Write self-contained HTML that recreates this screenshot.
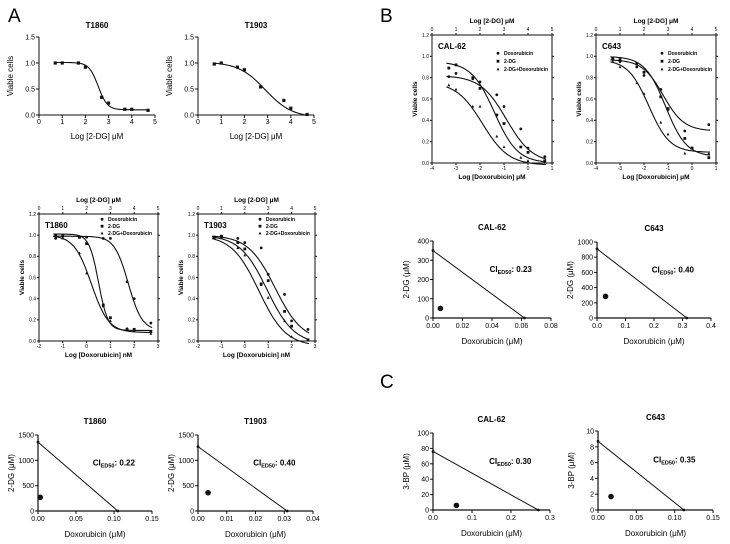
<!DOCTYPE html>
<html><head><meta charset="utf-8"><style>
html,body{margin:0;padding:0;background:#fff;}
svg{display:block;font-family:"Liberation Sans",sans-serif;}
</style></head><body>
<svg id="fig" width="730" height="544" viewBox="0 0 730 544">
<text x="8" y="22" font-size="19">A</text>
<text x="380" y="22" font-size="19">B</text>
<text x="380" y="388" font-size="19">C</text>
</svg>
<script>
// ---- data ----
const a1X=[0.7,1,1.7,2,2.7,3,3.7,4,4.7];
const a1Y=[1,1,1,0.92,0.34,0.23,0.11,0.11,0.09];
const a1Fit=[1.01,0.1,2.55,2.2];
const a2X=[0.7,1,1.7,2,2.7,3.7,4,4.7];
const a2Y=[0.98,1,0.92,0.87,0.54,0.28,0.13,0.01];
const a2Fit=[1.02,-0.05,2.9,0.75];
const doseAX=[-1.3,-1,-0.3,0,0.7,1,1.7,2,2.7];
const a3Dox=[0.97,0.99,0.98,0.98,0.97,0.97,0.56,0.40,0.17];
const a3DoxFit=[0.99,0.1,1.75,1.5];
const a3Dg=[1,1,0.98,0.92,0.34,0.22,0.11,0.11,0.09];
const a3DgFit=[1.01,0.1,0.5,2.2];
const a3Cb=[0.98,0.97,0.83,0.64,0.33,0.19,0.12,0.1,0.07];
const a3CbFit=[1.0,0.08,0.2,1.2];
const a4Dox=[0.98,0.99,0.97,0.93,0.88,0.63,0.44,0.19,0.11];
const a4DoxFit=[1.0,0.0,1.3,0.75];
const a4Dg=[0.98,0.99,0.93,0.87,0.54,0.57,0.28,0.14,0.01];
const a4DgFit=[1.0,-0.03,0.95,0.75];
const a4Cb=[0.98,0.98,0.88,0.81,0.53,0.41,0.19,0.04,0.01];
const a4CbFit=[1.0,-0.05,0.6,0.75];
const doseBX=[-3.3,-3,-2.3,-2,-1.3,-1,-0.3,0,0.7];
const b1Dox=[0.81,0.84,0.79,0.76,0.64,0.53,0.32,0.14,0.06];
const b1DoxFit=[0.82,0,-0.9,0.8];
const b1Dg=[0.89,0.92,0.80,0.70,0.45,0.37,0.15,0.1,0.02];
const b1DgFit=[0.95,0,-1.4,0.9];
const b1Cb=[0.73,0.69,0.53,0.53,0.25,0.15,0.05,0.02,0.01];
const b1CbFit=[0.76,-0.02,-1.9,0.8];
const b2Dox=[0.97,0.95,0.90,0.82,0.69,0.50,0.30,0.14,0.36];
const b2DoxFit=[0.97,0.3,-1.2,1.0];
const b2Dg=[0.98,0.97,0.93,0.85,0.62,0.51,0.23,0.14,0.05];
const b2DgFit=[1.0,0.06,-1.1,1.0];
const b2Cb=[0.95,0.90,0.75,0.65,0.38,0.27,0.09,0.14,0.09];
const b2CbFit=[0.97,0.1,-1.8,1.0];
const isoNames=["b-cal62","b-c643","a-t1860","a-t1903","c-cal62","c-c643"];
const isoTitles=["CAL-62","C643","T1860","T1903","CAL-62","C643"];
const isoYInt=[350,910,1360,1270,76,8.7];
const isoXInt=[0.062,0.315,0.105,0.031,0.27,0.112];
const isoPtX=[0.005,0.03,0.003,0.0035,0.06,0.017];
const isoPtY=[50,285,270,360,6,1.7];
const isoCI=["0.23","0.40","0.22","0.40","0.30","0.35"];
const isoXTicks=[[0,0.02,0.04,0.06,0.08],[0,0.1,0.2,0.3,0.4],[0,0.05,0.1,0.15],[0,0.01,0.02,0.03,0.04],[0,0.1,0.2,0.3],[0,0.05,0.1,0.15]];
const isoXDec=[2,1,2,2,1,2];
const isoYTicks=[[0,100,200,300,400],[0,200,400,600,800,1000],[0,500,1000,1500],[0,500,1000,1500],[0,20,40,60,80,100],[0,2,4,6,8,10]];
const isoYLab=["2-DG (μM)","2-DG (μM)","2-DG (μM)","2-DG (μM)","3-BP (μM)","3-BP (μM)"];

// ---- drawing ----
const NS="http://www.w3.org/2000/svg";
const svg=document.getElementById('fig');
function el(tag,attrs,parent){const e=document.createElementNS(NS,tag);for(const k in attrs)e.setAttribute(k,attrs[k]);(parent||svg).appendChild(e);return e;}
function txt(x,y,s,size,anchor,parent,bold){const t=el('text',{x:x,y:y,'font-size':size,'text-anchor':anchor||'middle','font-weight':bold?'bold':'normal'},parent);t.textContent=s;return t;}
function lin(a,b,p,q){return v=>p+(v-a)/(b-a)*(q-p);}
function fit(f,x){return f[1]+(f[0]-f[1])/(1+Math.pow(10,(x-f[2])*f[3]));}
function marker(g,shape,x,y,r){
  let m;
  if(shape==='sq'){m=el('rect',{x:x-r,y:y-r,width:2*r,height:2*r,fill:'#111'},g);}
  else if(shape==='tri'){m=el('polygon',{points:`${x},${y-r*1.2} ${x-r},${y+r*0.8} ${x+r},${y+r*0.8}`,fill:'#111'},g);}
  else{m=el('circle',{cx:x,cy:y,r:r,fill:'#111'},g);}
  
  
}
function curve(g,f,sx,sy,xa,xb){
  let d='';for(let i=0;i<=80;i++){const x=xa+(xb-xa)*i/80;d+=(i?'L':'M')+sx(x).toFixed(1)+','+sy(fit(f,x)).toFixed(1);}
  const p=el('path',{d:d,fill:'none',stroke:'#111','stroke-width':1.1},g);
  
  
}
function fmt(v,d){return v.toFixed(d);}

function simple(name,title,px0,px1,xs,ys,f){
  const g=el('g',{});
  
  
  const sx=lin(0,5,px0,px1), sy=lin(0,1.5,115,37);
  el('path',{d:`M${px0},37V115H${px1}`,fill:'none',stroke:'#111','stroke-width':1},g);
  for(let v=0;v<=5;v++){el('line',{x1:sx(v),x2:sx(v),y1:115,y2:118,stroke:'#111'},g);txt(sx(v),124,String(v),7,'middle',g);}
  [0,0.5,1,1.5].forEach(v=>{el('line',{x1:px0-3,x2:px0,y1:sy(v),y2:sy(v),stroke:'#111'},g);txt(px0-4,sy(v)+2.5,v.toFixed(1),7,'end',g);});
  const t=txt((px0+px1)/2,28,title,8,'middle',g,true);
  
  txt((px0+px1)/2,139,'Log [2-DG] μM',8,'middle',g);
  const yl=txt(0,0,'Viable cells',8,'middle',g);yl.setAttribute('transform',`translate(${px0-26},76) rotate(-90)`);
  curve(g,f,sx,sy,0.7,4.7);
  xs.forEach((x,i)=>marker(g,'sq',sx(x),sy(ys[i]),1.6));
}
simple('chart-a-t1860-2dg','T1860',39,155,a1X,a1Y,a1Fit);
simple('chart-a-t1903-2dg','T1903',198,314,a2X,a2Y,a2Fit);

function boxed(name,title,px0,px1,xmin,xmax,py0,py1,xs,series,unit,lgx,lgy,lgs){
  const g=el('g',{});
  
  
  const sx=lin(xmin,xmax,px0,px1), sy=lin(0,1.2,py0,py1), st=lin(0,5,px0,px1);
  el('rect',{x:px0,y:py1,width:px1-px0,height:py0-py1,fill:'none',stroke:'#111','stroke-width':1},g);
  for(let v=xmin;v<=xmax;v++){el('line',{x1:sx(v),x2:sx(v),y1:py0,y2:py0+2,stroke:'#111'},g);txt(sx(v),py0+7,String(v),5,'middle',g);}
  for(let v=0;v<=5;v++){el('line',{x1:st(v),x2:st(v),y1:py1,y2:py1-2,stroke:'#111'},g);txt(st(v),py1-4,String(v),5,'middle',g);}
  for(let k=0;k<=6;k++){const v=k*0.2;el('line',{x1:px0-2,x2:px0,y1:sy(v),y2:sy(v),stroke:'#111'},g);el('line',{x1:px1,x2:px1+2,y1:sy(v),y2:sy(v),stroke:'#111'},g);txt(px0-3,sy(v)+1.8,v.toFixed(1),5,'end',g);}
  txt((px0+px1)/2,py1-12,'Log [2-DG] μM',6.5,'middle',g,true);
  txt((px0+px1)/2,py0+16,'Log [Doxorubicin] '+unit,6.5,'middle',g,true);
  const yl=txt(0,0,'Viable cells',6.5,'middle',g,true);yl.setAttribute('transform',`translate(${px0-15},${(py0+py1)/2}) rotate(-90)`);
  const t=txt(px0+6,py1+14,title,8,'start',g,true);
  
  const lg=['Doxorubicin','2-DG','2-DG+Doxorubicin'],sh=['c','sq','tri'];
  lg.forEach((s,i)=>{const ly=py1+lgy+i*lgs;marker(g,sh[i],px0+(px1-px0)*lgx,ly-1.8,1.4);txt(px0+(px1-px0)*(lgx+0.05),ly,s,5,'start',g,true);});
  series.forEach((s,i)=>{curve(g,s.f,sx,sy,xmin+0.6,xmax-0.25);xs.forEach((x,j)=>marker(g,sh[i],sx(x),sy(s.y[j]),1.4));});
}
boxed('chart-a-t1860-dox','T1860',39,158,-2,3,341,214,doseAX,[{y:a3Dox,f:a3DoxFit},{y:a3Dg,f:a3DgFit},{y:a3Cb,f:a3CbFit}],'nM',0.53,7,7);
boxed('chart-a-t1903-dox','T1903',198,315,-2,3,341,214,doseAX,[{y:a4Dox,f:a4DoxFit},{y:a4Dg,f:a4DgFit},{y:a4Cb,f:a4CbFit}],'nM',0.53,7,7);
boxed('chart-b-cal62-dox','CAL-62',432,552,-4,1,163,35,doseBX,[{y:b1Dox,f:b1DoxFit},{y:b1Dg,f:b1DgFit},{y:b1Cb,f:b1CbFit}],'μM',0.55,20,8);
boxed('chart-b-c643-dox','C643',596,716,-4,1,163,35,doseBX,[{y:b2Dox,f:b2DoxFit},{y:b2Dg,f:b2DgFit},{y:b2Cb,f:b2CbFit}],'μM',0.55,20,8);

const isoBox=[[433,551,318,241],[597,711,318,242],[38,152,511,435],[198,313,511,435],[433,550,510,433],[598,713,510,431]];
isoNames.forEach((nm,i)=>{
  const g=el('g',{});
  
  
  const [px0,px1,py0,py1]=isoBox[i];
  const xt=isoXTicks[i],yt=isoYTicks[i];
  const sx=lin(xt[0],xt[xt.length-1],px0,px1), sy=lin(yt[0],yt[yt.length-1],py0,py1);
  el('path',{d:`M${px0},${py1}V${py0}H${px1}`,fill:'none',stroke:'#111','stroke-width':1.2},g);
  xt.forEach(v=>{el('line',{x1:sx(v),x2:sx(v),y1:py0,y2:py0+3,stroke:'#111'},g);txt(sx(v),py0+10,fmt(v,isoXDec[i]),7,'middle',g);});
  yt.forEach(v=>{el('line',{x1:px0-3,x2:px0,y1:sy(v),y2:sy(v),stroke:'#111'},g);txt(px0-4,sy(v)+2.5,String(v),7,'end',g);});
  const t=txt((px0+px1)/2,py1-11,isoTitles[i],8,'middle',g,true);
  
  txt((px0+px1)/2,py0+26,'Doxorubicin (μM)',8,'middle',g);
  const yl=txt(0,0,isoYLab[i],8,'middle',g);yl.setAttribute('transform',`translate(${px0-24},${(py0+py1)/2}) rotate(-90)`);
  const ln=el('line',{x1:sx(0),y1:sy(isoYInt[i]),x2:sx(isoXInt[i]),y2:sy(0),stroke:'#111','stroke-width':1},g);
  
  
  marker(g,'c',sx(0),sy(isoYInt[i]),1.4);
  marker(g,'c',sx(isoXInt[i]),sy(0),1.4);
  marker(g,'c',sx(isoPtX[i]),sy(isoPtY[i]),2.8);
  const ct=el('text',{x:px0+(px1-px0)*0.48,y:py1+(py0-py1)*0.4,'font-size':8,'font-weight':'bold'},g);
  
  
  ct.innerHTML='CI<tspan font-size="5.5" dy="2">ED50</tspan><tspan dy="-2">:  '+isoCI[i]+'</tspan>';
});
</script>
</body></html>
